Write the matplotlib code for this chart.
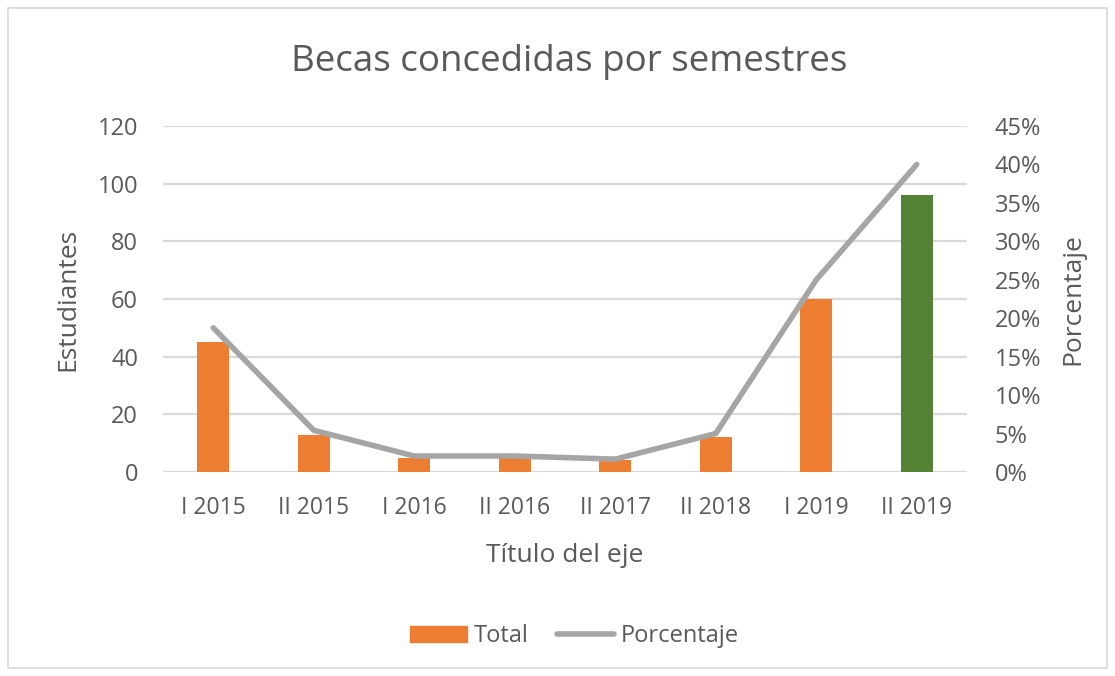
import matplotlib.pyplot as plt
from matplotlib.patches import Rectangle
from matplotlib.lines import Line2D
from matplotlib.ticker import FuncFormatter

semestres = ['I 2015', 'II 2015', 'I 2016', 'II 2016', 'II 2017', 'II 2018', 'I 2019', 'II 2019']
total = [45, 13, 5, 5, 4, 12, 60, 96]
porcentaje = [18.75, 5.42, 2.08, 2.08, 1.67, 5.0, 25.0, 40.0]
colores = ['#ED7D31'] * 7 + ['#548235']

texto = '#595959'
W, H = 1115, 676
plt.rcParams['font.family'] = ['Open Sans', 'DejaVu Sans']

fig = plt.figure(figsize=(W / 100, H / 100), dpi=100)
ax = fig.add_axes([163 / W, 1 - 472 / H, (967 - 163) / W, (472 - 126) / H])
ax2 = ax.twinx()

x = range(len(semestres))
ax.bar(x, total, width=0.32, color=colores, zorder=2)
ax.set_ylim(0, 120)
ax.set_yticks(range(0, 121, 20))
ax.set_xlim(-0.5, len(semestres) - 0.5)
ax.set_xticks(list(x))
ax.set_xticklabels(semestres)
ax.grid(axis='y', color='#d9d9d9', linewidth=1.6, zorder=0)
ax.set_axisbelow(True)

ax2.plot(list(x), porcentaje, color='#A5A5A5', linewidth=4, solid_capstyle='round', zorder=3)
ax2.set_ylim(0, 45)
ax2.set_yticks(range(0, 46, 5))
ax2.yaxis.set_major_formatter(FuncFormatter(lambda v, p: f'{v:.0f}%'))

for a in (ax, ax2):
    for s in a.spines.values():
        s.set_visible(False)
    a.tick_params(length=0, labelsize=17, colors=texto)
ax.tick_params(axis='y', pad=18)
ax.tick_params(axis='x', pad=17, labelsize=16.5)
ax2.tick_params(axis='y', pad=20)

# titulos de ejes
fig.text(68 / W, 1 - 299 / H, 'Estudiantes', fontsize=19, color=texto,
         rotation=90, ha='center', va='center')
fig.text(1073 / W, 1 - 299 / H, 'Porcentaje', fontsize=19, color=texto,
         rotation=90, ha='center', va='center')
fig.text(565 / W, 1 - 555 / H, 'Título del eje', fontsize=19, color=texto,
         ha='center', va='center')

fig.text(569 / W, 1 - 62 / H, 'Becas concedidas por semestres', fontsize=26.5,
         color=texto, ha='center', va='center')

handles = [Rectangle((0, 0), 1, 1, color='#ED7D31'),
           Line2D([0], [0], color='#A5A5A5', linewidth=4, solid_capstyle='round')]
fig.legend(handles, ['Total', 'Porcentaje'], loc='center', bbox_to_anchor=(574 / W, 1 - 636 / H),
           ncol=2, frameon=False, fontsize=17, labelcolor=texto, handlelength=2.45,
           handleheight=0.65, handletextpad=0.25, columnspacing=1.2)

fig.patches.append(Rectangle((8 / W, 8 / H), 1 - 16 / W, 1 - 16 / H, transform=fig.transFigure,
                             fill=False, edgecolor='#d9d9d9', linewidth=1.2))

fig.savefig('out.png', dpi=100)
